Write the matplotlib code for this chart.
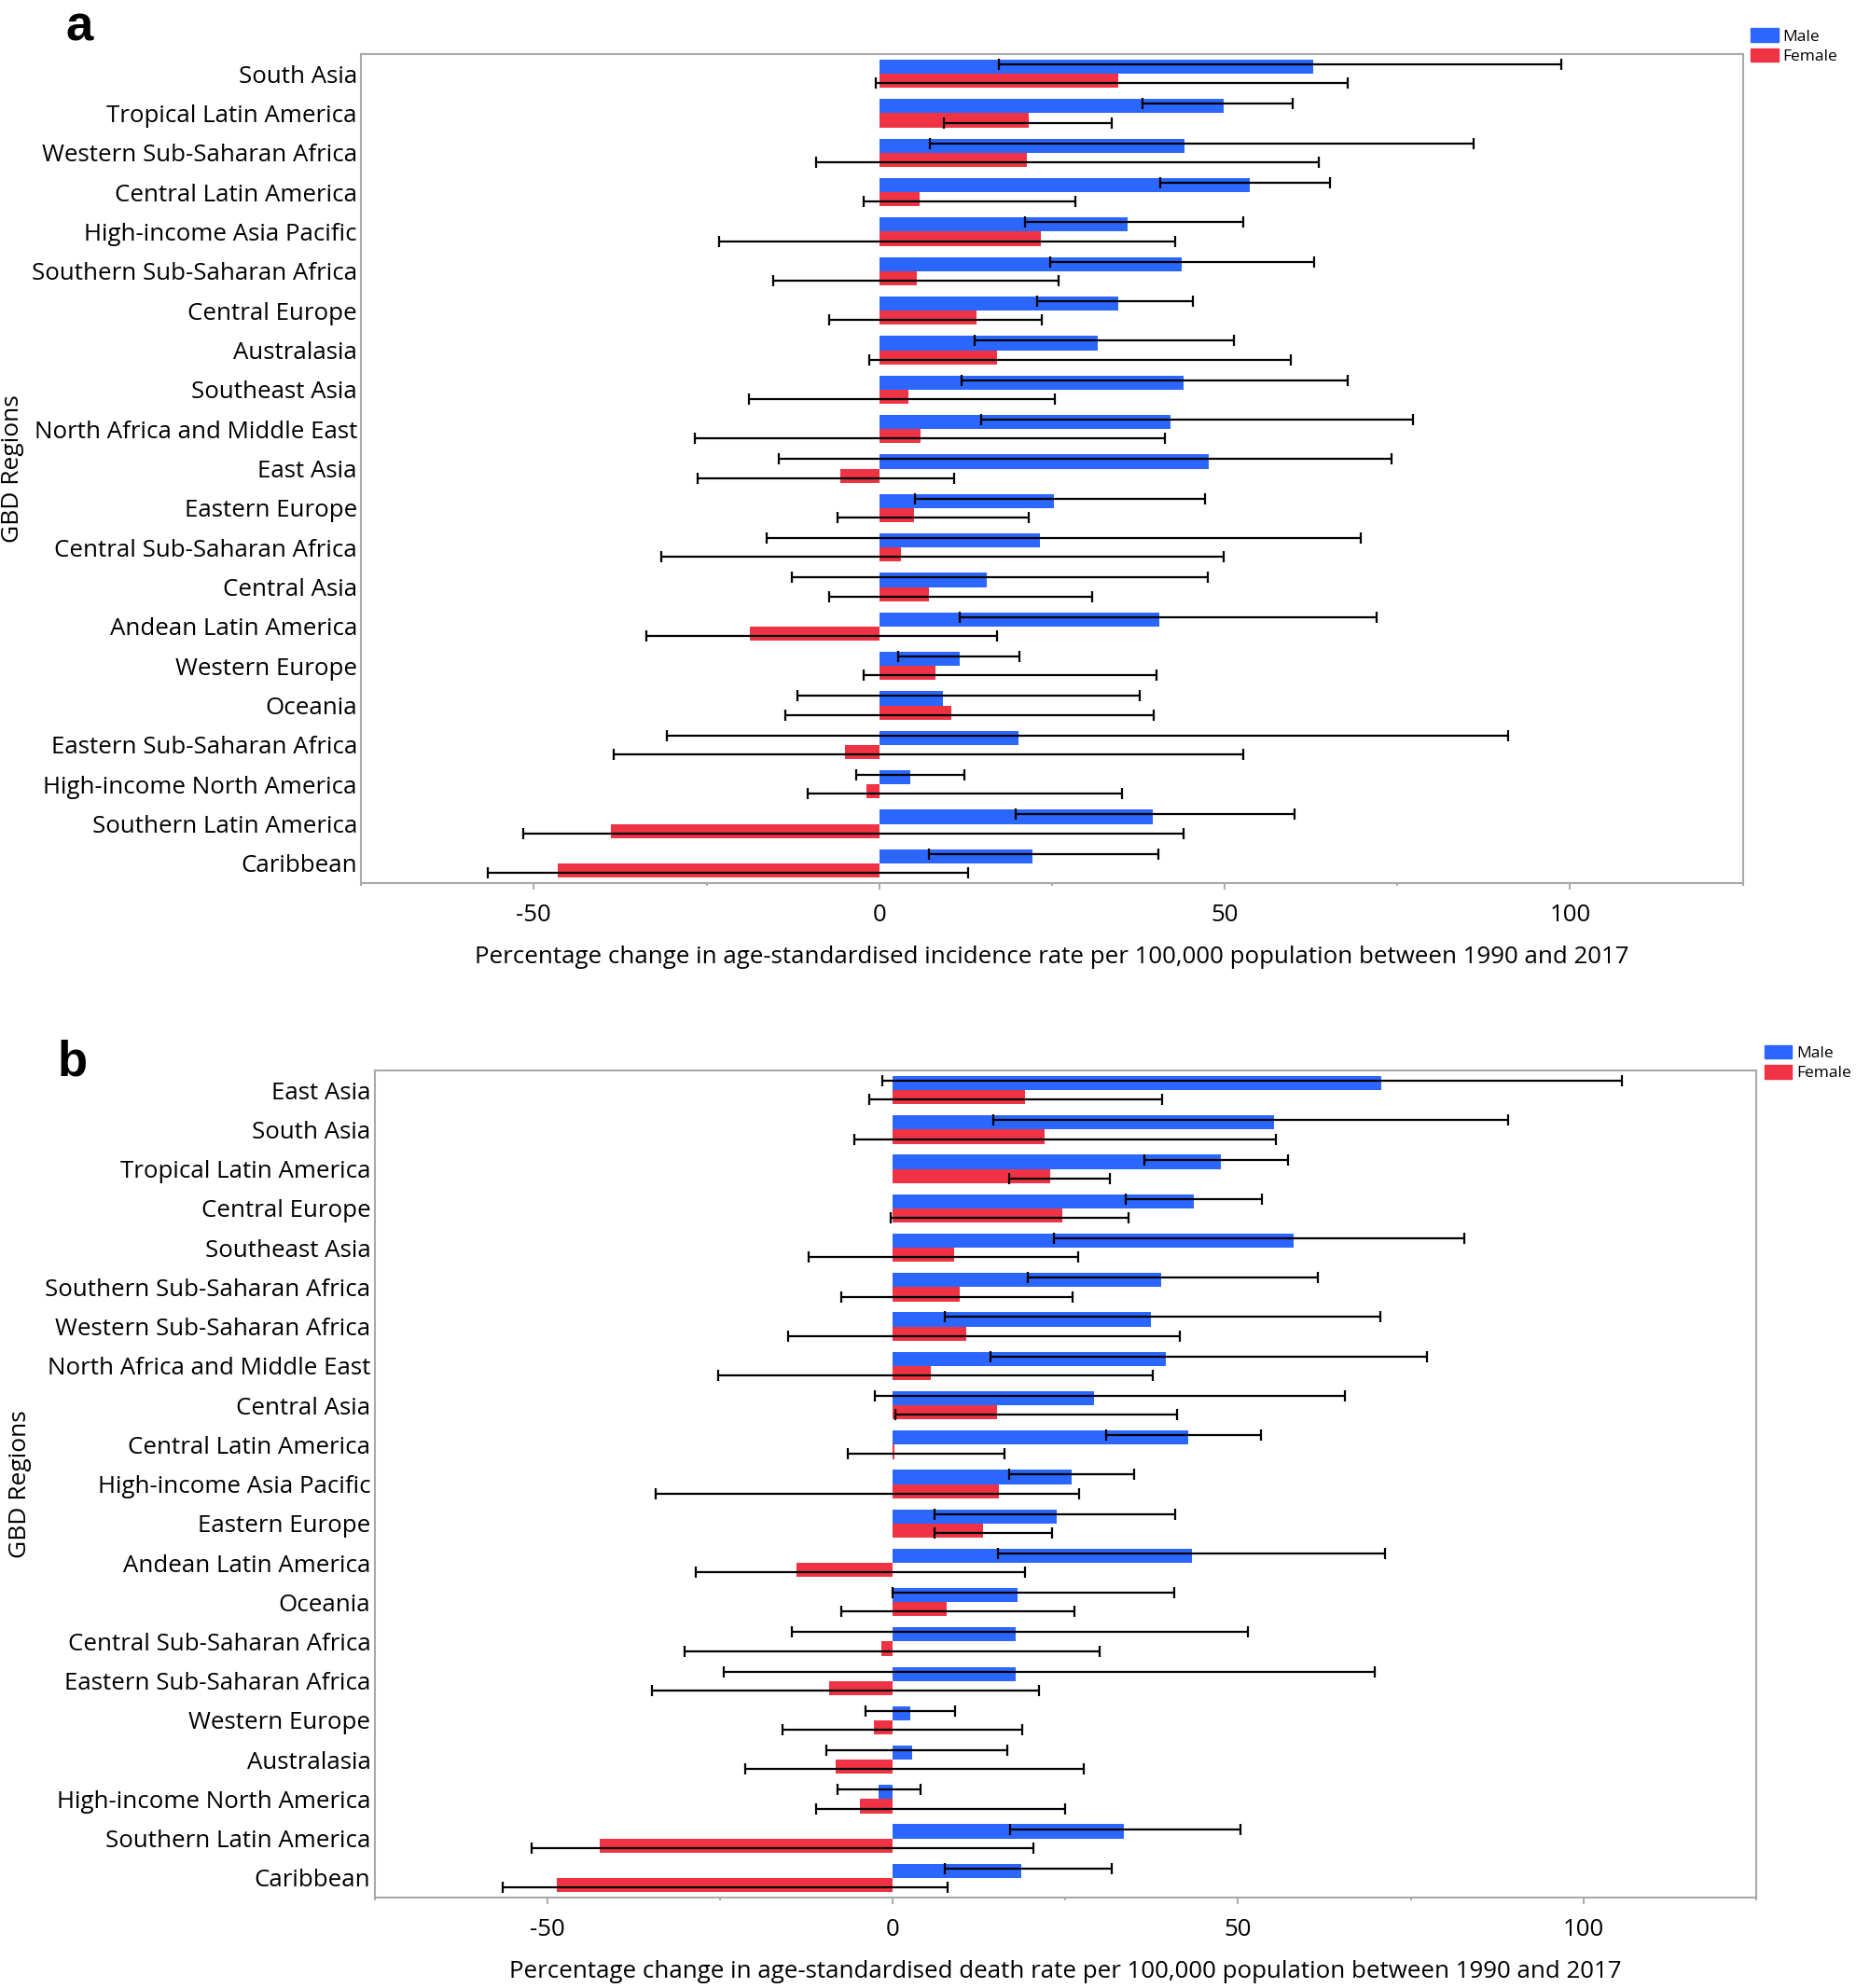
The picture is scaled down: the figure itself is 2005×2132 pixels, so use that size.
import numpy as np
import matplotlib
matplotlib.use('Agg')
from matplotlib import pyplot as plt
from matplotlib.ticker import FixedLocator
from matplotlib.patches import Patch

plt.rcParams['font.family'] = ['Open Sans', 'DejaVu Sans']

# Panel a : incidence
regions_a = ["South Asia", "Tropical Latin America", "Western Sub-Saharan Africa",
             "Central Latin America", "High-income Asia Pacific", "Southern Sub-Saharan Africa",
             "Central Europe", "Australasia", "Southeast Asia", "North Africa and Middle East",
             "East Asia", "Eastern Europe", "Central Sub-Saharan Africa", "Central Asia",
             "Andean Latin America", "Western Europe", "Oceania", "Eastern Sub-Saharan Africa",
             "High-income North America", "Southern Latin America", "Caribbean"]
male_a = [62.8, 49.8, 44.2, 53.7, 36.0, 43.8, 34.6, 31.6, 44.1, 42.1, 47.7,
          25.3, 23.2, 15.6, 40.6, 11.6, 9.2, 20.2, 4.5, 39.6, 22.2]
male_a_lo = [17.3, 38.1, 7.3, 40.7, 21.1, 24.7, 22.9, 13.8, 11.9, 14.7, -14.6,
             5.2, -16.3, -12.7, 11.6, 2.7, -11.9, -30.8, -3.3, 19.7, 7.2]
male_a_hi = [98.7, 59.8, 86.0, 65.3, 52.7, 62.9, 45.4, 51.3, 67.8, 77.2, 74.2,
             47.2, 69.7, 47.6, 72.0, 20.3, 37.7, 91.1, 12.3, 60.1, 40.4]
female_a = [34.6, 21.6, 21.4, 5.8, 23.4, 5.4, 14.1, 17.1, 4.2, 6.0, -5.6,
            5.0, 3.1, 7.2, -18.7, 8.2, 10.4, -4.9, -1.9, -38.9, -46.6]
female_a_lo = [-0.5, 9.3, -9.1, -2.2, -23.2, -15.3, -7.2, -1.5, -18.9, -26.7, -26.3,
               -6.1, -31.5, -7.2, -33.7, -2.3, -13.6, -38.4, -10.3, -51.5, -56.6]
female_a_hi = [67.8, 33.6, 63.6, 28.4, 42.9, 25.9, 23.5, 59.6, 25.4, 41.4, 10.9,
               21.7, 49.8, 30.8, 17.0, 40.2, 39.7, 52.7, 35.1, 44.0, 12.9]

# Panel b : deaths
regions_b = ["East Asia", "South Asia", "Tropical Latin America", "Central Europe",
             "Southeast Asia", "Southern Sub-Saharan Africa", "Western Sub-Saharan Africa",
             "North Africa and Middle East", "Central Asia", "Central Latin America",
             "High-income Asia Pacific", "Eastern Europe", "Andean Latin America", "Oceania",
             "Central Sub-Saharan Africa", "Eastern Sub-Saharan Africa", "Western Europe",
             "Australasia", "High-income North America", "Southern Latin America", "Caribbean"]
male_b = [70.7, 55.2, 47.5, 43.6, 58.1, 38.8, 37.4, 39.6, 29.1, 42.8, 25.9,
          23.7, 43.3, 18.1, 17.8, 17.8, 2.6, 2.8, -2.1, 33.5, 18.6]
male_b_lo = [-1.5, 14.6, 36.4, 33.8, 23.3, 19.5, 7.6, 14.1, -2.6, 30.9, 16.9,
             6.1, 15.3, 0.0, -14.6, -24.4, -4.0, -9.6, -8.0, 17.0, 7.5]
male_b_hi = [105.6, 89.1, 57.2, 53.5, 82.8, 61.6, 70.6, 77.4, 65.4, 53.3, 35.0,
             40.9, 71.3, 40.8, 51.4, 69.8, 9.0, 16.6, 4.0, 50.3, 31.7]
female_b = [19.2, 22.0, 22.8, 24.6, 8.9, 9.7, 10.7, 5.5, 15.1, 0.3, 15.4,
            13.1, -13.9, 7.8, -1.7, -9.2, -2.7, -8.2, -4.8, -42.4, -48.6]
female_b_lo = [-3.4, -5.6, 16.8, -0.3, -12.2, -7.5, -15.1, -25.3, 0.4, -6.5, -34.3,
               6.1, -28.5, -7.5, -30.1, -34.9, -15.9, -21.4, -11.1, -52.2, -56.5]
female_b_hi = [39.0, 55.5, 31.5, 34.2, 26.9, 26.0, 41.5, 37.6, 41.2, 16.2, 27.0,
               23.0, 19.2, 26.3, 29.9, 21.2, 18.8, 27.7, 25.0, 20.4, 8.0]

BLUE = '#2b66fe'
RED = '#ef3344'
GREY = '#a9a9a9'


def panel(ax, regions, male, mlo, mhi, female, flo, fhi, xlab):
    y = np.arange(len(regions))
    male = np.array(male)
    female = np.array(female)
    ax.barh(y - 0.18, male, height=0.36, color=BLUE, zorder=2)
    ax.barh(y + 0.18, female, height=0.36, color=RED, zorder=2)
    # confidence intervals
    ax.errorbar(male, y - 0.24, xerr=[male - np.array(mlo), np.array(mhi) - male],
                fmt='none', ecolor='black', elinewidth=1.6, capsize=4.3, capthick=1.6, zorder=3)
    ax.errorbar(female, y + 0.24, xerr=[female - np.array(flo), np.array(fhi) - female],
                fmt='none', ecolor='black', elinewidth=1.6, capsize=4.3, capthick=1.6, zorder=3)

    ax.set_xlim(-75, 125)
    ax.set_ylim(len(regions) - 0.5, -0.5)
    ax.set_yticks(y)
    ax.set_yticklabels(regions, fontsize=18.6)
    ax.set_xticks([-50, 0, 50, 100])
    ax.set_xticklabels(['-50', '0', '50', '100'], fontsize=18.6)
    ax.xaxis.set_minor_locator(FixedLocator([-75, -25, 25, 75, 125]))
    ax.tick_params(axis='y', length=0, pad=3)
    ax.tick_params(axis='x', which='major', length=5, width=1.4, color=GREY, pad=10.5)
    ax.tick_params(axis='x', which='minor', length=2.5, width=1.4, color=GREY)
    for s in ax.spines.values():
        s.set_color(GREY)
        s.set_linewidth(1.5)
    ax.set_xlabel(xlab, fontsize=18.6, labelpad=15)
    ax.set_ylabel('GBD Regions', fontsize=19)

    handles = [Patch(color=BLUE, label='Male'), Patch(color=RED, label='Female')]
    ax.legend(handles=handles, loc='upper left', bbox_to_anchor=(1.006, 1.031),
              frameon=False, fontsize=12.5, borderpad=0, borderaxespad=0,
              handlelength=1.7, handleheight=0.9, handletextpad=0.25, labelspacing=0.25)


fig = plt.figure(figsize=(20.06, 21.32), dpi=100)
ax1 = fig.add_axes([0.193, 0.5558, 0.7385, 0.4170])
ax2 = fig.add_axes([0.2002, 0.0455, 0.7385, 0.416])

panel(ax1, regions_a, male_a, male_a_lo, male_a_hi, female_a, female_a_lo, female_a_hi,
      'Percentage change in age-standardised incidence rate per 100,000 population between 1990 and 2017')
panel(ax2, regions_b, male_b, male_b_lo, male_b_hi, female_b, female_b_lo, female_b_hi,
      'Percentage change in age-standardised death rate per 100,000 population between 1990 and 2017')
ax1.yaxis.set_label_coords(-0.244, 0.5)
ax2.yaxis.set_label_coords(-0.248, 0.5)

fig.text(85 / 2006, 1 - 43 / 2132, 'a', fontsize=38, fontweight='bold', ha='center',
         va='baseline', family='Liberation Sans')
fig.text(78 / 2006, 1 - 1153 / 2132, 'b', fontsize=38, fontweight='bold', ha='center',
         va='baseline', family='Liberation Sans')

plt.savefig('out.png', dpi=100)
